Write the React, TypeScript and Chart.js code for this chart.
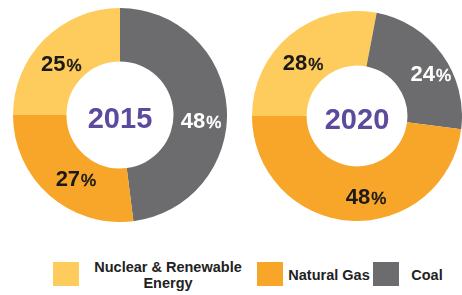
import React, { useEffect, useRef } from "react";
import { Chart, registerables } from "chart.js";

Chart.register(...registerables);

// ---- data ----
const categories = ["Nuclear & Renewable Energy", "Coal", "Natural Gas"];
const years = ["2015", "2020"];
const values2015 = [25, 48, 27];
const values2020 = [28, 24, 48];
const legendLabels = ["Nuclear & Renewable Energy", "Natural Gas", "Coal"];

// ---- styles ----
const COLORS: Record<string, string> = {
  "Nuclear & Renewable Energy": "#FDCC5C",
  "Natural Gas": "#F7A62A",
  Coal: "#6C6C6E",
};
const LABEL_COLORS: Record<string, string> = {
  "Nuclear & Renewable Energy": "#1c1a17",
  "Natural Gas": "#1c1a17",
  Coal: "#ffffff",
};
const FONT = "'Liberation Sans', Arial, sans-serif";

const sliceLabelPlugin = {
  id: "sliceLabels",
  afterDatasetsDraw(chart: any, _args: any, opts: any) {
    const ctx = chart.ctx as CanvasRenderingContext2D;
    const meta = chart.getDatasetMeta(0);
    const data = chart.data.datasets[0].data as number[];
    const labels = chart.data.labels as string[];
    ctx.save();
    meta.data.forEach((arc: any, i: number) => {
      const p = arc.tooltipPosition();
      const off = opts.offsets[i] || [0, 0];
      const num = String(data[i]);
      ctx.font = `bold 22px ${FONT}`;
      const w1 = ctx.measureText(num).width;
      ctx.font = `17px ${FONT}`;
      const w2 = ctx.measureText("%").width;
      const cx = p.x + off[0];
      const cy = p.y + off[1];
      const x0 = cx - (w1 + w2 + 1) / 2;
      const base = cy + 8;
      ctx.textBaseline = "alphabetic";
      ctx.textAlign = "left";
      ctx.fillStyle = LABEL_COLORS[labels[i]];
      ctx.font = `bold 22px ${FONT}`;
      ctx.fillText(num, x0, base);
      ctx.font = `17px ${FONT}`;
      ctx.lineWidth = 0.6;
      ctx.strokeStyle = LABEL_COLORS[labels[i]];
      ctx.fillText("%", x0 + w1 + 1, base);
      ctx.strokeText("%", x0 + w1 + 1, base);
    });
    // center year
    const arc0 = meta.data[0];
    ctx.font = `bold 29px ${FONT}`;
    ctx.textAlign = "center";
    ctx.textBaseline = "alphabetic";
    ctx.fillStyle = "#5D4A9C";
    ctx.fillText(opts.title, arc0.x, arc0.y + 2 + 10.5);
    ctx.restore();
  },
};

function Donut({
  values,
  title,
  size,
  cutout,
  offsets,
  style,
}: {
  values: number[];
  title: string;
  size: number;
  cutout: string;
  offsets: number[][];
  style: React.CSSProperties;
}) {
  const ref = useRef<HTMLCanvasElement | null>(null);
  useEffect(() => {
    if (!ref.current) return;
    const chart = new Chart(ref.current, {
      type: "doughnut",
      data: {
        labels: categories,
        datasets: [
          {
            data: values,
            backgroundColor: categories.map((c) => COLORS[c]),
            borderWidth: 0,
          },
        ],
      },
      options: {
        responsive: false,
        animation: false,
        rotation: -90,
        cutout,
        layout: { padding: 0 },
        plugins: {
          legend: { display: false },
          tooltip: { enabled: false },
          // @ts-ignore
          sliceLabels: { offsets, title },
        },
      } as any,
      plugins: [sliceLabelPlugin],
    });
    return () => chart.destroy();
  }, []);
  return (
    <canvas
      ref={ref}
      width={size}
      height={size}
      style={{ position: "absolute", width: size, height: size, ...style }}
    />
  );
}

export default function App() {
  const legendPos: Record<string, { sq: number; tx: number; tw: number }> = {
    "Nuclear & Renewable Energy": { sq: 53, tx: 91, tw: 154 },
    "Natural Gas": { sq: 257, tx: 287, tw: 84 },
    Coal: { sq: 373, tx: 407, tw: 40 },
  };
  return (
    <div
      style={{
        position: "absolute",
        left: 0,
        top: 0,
        width: 462,
        height: 295,
        background: "#fff",
        overflow: "hidden",
      }}
    >
      <Donut
        values={values2015}
        title={years[0]}
        size={214}
        cutout="50%"
        offsets={[
          [-2, 5],
          [1, 10],
          [9, 3],
        ]}
        style={{ left: 13, top: 8 }}
      />
      <Donut
        values={values2020}
        title={years[1]}
        size={210}
        cutout="48%"
        offsets={[
          [-4.5, 6],
          [11, 3],
          [14, 2],
        ]}
        style={{ left: 252, top: 11 }}
      />
      {legendLabels.map((l) => {
        const p = legendPos[l];
        const twoLine = l.startsWith("Nuclear");
        return (
          <React.Fragment key={l}>
            <div
              style={{
                position: "absolute",
                left: p.sq,
                top: 262,
                width: 26,
                height: 24,
                background: COLORS[l],
              }}
            />
            <div
              style={{
                position: "absolute",
                left: p.tx,
                top: twoLine ? 259 : 267,
                width: p.tw,
                textAlign: "center",
                font: `bold 14.5px ${FONT}`,
                lineHeight: "16px",
                color: "#222",
                whiteSpace: "nowrap",
              }}
            >
              {twoLine ? (
                <>
                  Nuclear &amp; Renewable
                  <br />
                  Energy
                </>
              ) : (
                l
              )}
            </div>
          </React.Fragment>
        );
      })}
    </div>
  );
}
